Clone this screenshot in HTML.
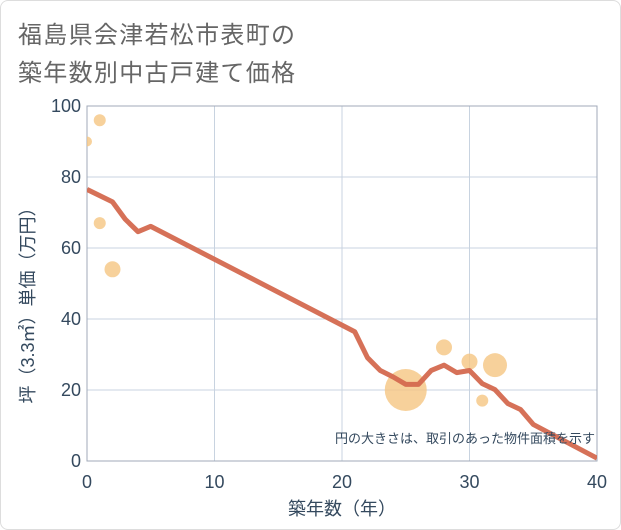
<!DOCTYPE html>
<html><head><meta charset="utf-8"><style>
body{margin:0;background:#fff;}
#wrap{position:relative;width:619px;height:528px;border:1px solid #ddd;border-radius:8px;background:#fff;overflow:hidden;}
.t{position:absolute;left:17px;font:24px "Liberation Sans","Noto Sans CJK JP",sans-serif;color:#666;letter-spacing:1.3px;}
svg{position:absolute;left:0;top:0;}
</style></head><body>
<div id="wrap">
<div class="t" style="top:14px">福島県会津若松市表町の</div>
<div class="t" style="top:52px">築年数別中古戸建て価格</div>
<svg id="chart" width="621" height="530"></svg>
</div>
<script>
const xTicks=[0,10,20,30,40];
const yTicks=[0,20,40,60,80,100];
const lineYears=[0,2,3,4,5,21,22,23,24,25,26,27,28,29,30,31,32,33,34,35,36,37,38,39,40];
const linePrices=[76.5,73,68.1,64.6,66.1,36.4,29.1,25.5,23.7,21.6,21.6,25.5,27,24.9,25.5,21.8,20.1,16.2,14.5,10.3,8.4,6.5,4.6,2.7,0.8];
const bubbleYears=[0,1,1,2,25,28,30,31,32];
const bubblePrices=[90,96,67,54,20,32,28,17,27];
const bubbleSizes=[5,6,6,8,21,8,8,6,12];
const NS="http://www.w3.org/2000/svg";
const svg=document.getElementById('chart');
const X0=86,X1=596,Y0=460,Y1=105;
const sx=v=>X0+(v-0)/40*(X1-X0);
const sy=v=>Y0-(v/100)*(Y0-Y1);
function mk(t,a,p){const e=document.createElementNS(NS,t);for(const k in a)e.setAttribute(k,a[k]);(p||svg).appendChild(e);return e;}
const font='"Liberation Sans","Noto Sans CJK JP",sans-serif';
const defs=mk('defs',{});
const cp=mk('clipPath',{id:'pc'},defs);
mk('rect',{x:X0,y:Y1,width:X1-X0,height:Y0-Y1},cp);
xTicks.forEach(v=>{
 const l=mk('line',{x1:sx(v),x2:sx(v),y1:Y1,y2:Y0,stroke:'#c8d3e0','stroke-width':1});
 
 
 const t=mk('text',{x:sx(v),y:Y0+27,'text-anchor':'middle','font-size':18,fill:'#34495e','font-family':font});
 t.textContent=v;
 
 
});
yTicks.forEach(v=>{
 const l=mk('line',{x1:X0,x2:X1,y1:sy(v),y2:sy(v),stroke:'#c8d3e0','stroke-width':1});
 
 
 const t=mk('text',{x:X0-6,y:sy(v)+6,'text-anchor':'end','font-size':18,fill:'#34495e','font-family':font});
 t.textContent=v;
 
 
});
const fr=mk('rect',{x:X0,y:Y1,width:X1-X0,height:Y0-Y1,fill:'none',stroke:'#a0aab8','stroke-width':1});


const g=mk('g',{'clip-path':'url(#pc)'});
bubbleYears.forEach((yr,i)=>{
 const c=mk('circle',{cx:sx(yr),cy:sy(bubblePrices[i]),r:bubbleSizes[i],fill:'#f5c682','fill-opacity':0.8},g);
 
 
});
const pts=lineYears.map((yr,i)=>sx(yr)+','+sy(linePrices[i])).join(' ');
const pl=mk('polyline',{points:pts,fill:'none',stroke:'#d4694f','stroke-width':5,'stroke-linejoin':'round','stroke-opacity':0.95},g);


const note=mk('text',{x:594,y:442,'text-anchor':'end','font-size':13,fill:'#34495e','font-family':font});
note.textContent='円の大きさは、取引のあった物件面積を示す';


const xt=mk('text',{x:341,y:514,'text-anchor':'middle','font-size':18,fill:'#34495e','font-family':font});
xt.textContent='築年数（年）';


const yt=mk('text',{x:0,y:0,'text-anchor':'middle','font-size':18,fill:'#34495e','font-family':font,transform:'translate(33,300) rotate(-90)'});
yt.textContent='坪（3.3㎡）単価（万円）';


</script>
</body></html>
